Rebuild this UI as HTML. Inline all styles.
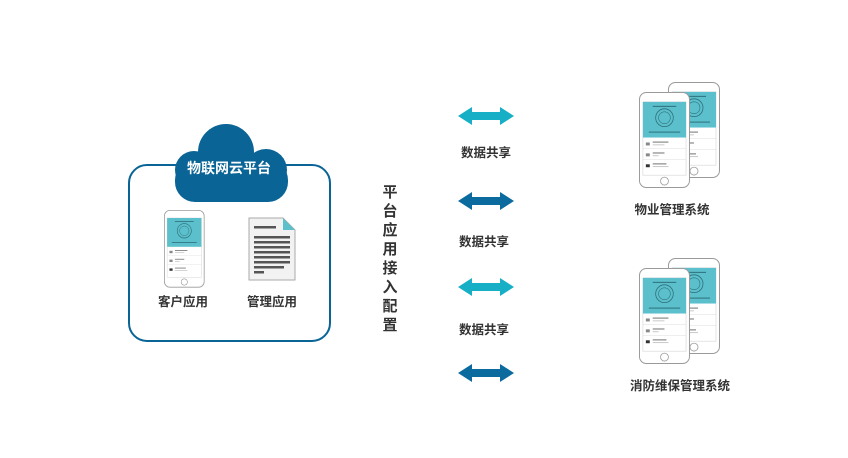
<!DOCTYPE html>
<html><head><meta charset="utf-8"><style>
body{margin:0;background:#fff;width:848px;height:453px;overflow:hidden;font-family:"Liberation Sans","Noto Sans CJK SC",sans-serif}
</style></head><body>
<svg width="848" height="453" viewBox="0 0 848 453" xmlns="http://www.w3.org/2000/svg" font-family="Liberation Sans, Noto Sans CJK SC, sans-serif">
<defs>
<g id="ph">
 <rect x="0.5" y="0.5" width="51" height="96" rx="7" fill="#fff" stroke="#9a9a9a" stroke-width="1"/>
 <rect x="4" y="10" width="44" height="74" fill="#fff" stroke="#ccc" stroke-width="0.5"/>
 <rect x="4" y="10" width="44" height="36" fill="#5cc0cc"/>
 <circle cx="26" cy="26" r="9" fill="none" stroke="#2b6f7a" stroke-width="0.8"/>
 <circle cx="26" cy="26" r="6" fill="none" stroke="#2b6f7a" stroke-width="0.6"/>
 <rect x="10" y="40" width="32" height="1" fill="#2b6f7a"/>
 <rect x="14" y="14" width="24" height="1" fill="#2b6f7a"/>
 <g fill="#888"><rect x="7" y="51" width="4" height="3"/><rect x="14" y="50" width="16" height="1.2"/><rect x="14" y="53" width="12" height="0.8" fill="#bbb"/>
 <rect x="7" y="62" width="4" height="3"/><rect x="14" y="61" width="12" height="1.2"/><rect x="14" y="64" width="6" height="0.8" fill="#bbb"/>
 <rect x="7" y="73" width="4" height="3" fill="#333"/><rect x="14" y="72" width="14" height="1.2"/><rect x="14" y="75" width="16" height="0.8" fill="#bbb"/></g>
 <line x1="4" y1="57" x2="48" y2="57" stroke="#ddd" stroke-width="0.5"/><line x1="4" y1="68" x2="48" y2="68" stroke="#ddd" stroke-width="0.5"/>
 <circle cx="26" cy="90" r="4" fill="none" stroke="#9a9a9a" stroke-width="0.8"/>
</g>
</defs>
<rect x="129" y="165" width="201" height="176" rx="18" fill="#fff" stroke="#0a6496" stroke-width="2"/>
<g fill="#0a6496">
 <circle cx="226" cy="152" r="28"/>
 <circle cx="194" cy="170" r="19"/>
 <circle cx="266" cy="170" r="21"/>
 <rect x="175" y="160" width="113" height="42" rx="20"/>
</g>
<text x="229" y="173" text-anchor="middle" fill="#fff" font-size="14" font-weight="bold">物联网云平台</text>
<g transform="translate(164,210) scale(0.78,0.8)"><use href="#ph"/></g>
<text x="183" y="306" text-anchor="middle" fill="#333" font-size="12.5" font-weight="bold">客户应用</text>
<path d="M249 218 H283 L295 230 V280 H249 Z" fill="#f2f2f2" stroke="#aaa" stroke-width="1"/>
<path d="M283 218 L295 230 H283 Z" fill="#5cc0cc"/>
<g fill="#555"><rect x="254" y="226" width="22" height="2.5"/>
<rect x="254" y="236" width="36" height="2.5"/><rect x="254" y="241" width="36" height="2.5"/><rect x="254" y="246" width="36" height="2.5"/><rect x="254" y="251" width="36" height="2.5"/><rect x="254" y="256" width="36" height="2.5"/><rect x="254" y="261" width="36" height="2.5"/><rect x="254" y="266" width="30" height="2.5"/><rect x="254" y="271" width="10" height="2.5"/></g>
<text x="272" y="306" text-anchor="middle" fill="#333" font-size="12.5" font-weight="bold">管理应用</text>
<g font-size="15" font-weight="bold" fill="#333" text-anchor="middle">
<text x="390" y="197">平</text><text x="390" y="216">台</text><text x="390" y="235">应</text><text x="390" y="254">用</text><text x="390" y="273">接</text><text x="390" y="292">入</text><text x="390" y="311">配</text><text x="390" y="330">置</text>
</g>
<g>
<path d="M458 116 L472 107 V112 H500 V107 L514 116 L500 125 V120 H472 V125 Z" fill="#16afc6"/>
<path d="M458 201 L472 192 V197 H500 V192 L514 201 L500 210 V205 H472 V210 Z" fill="#0b6a9e"/>
<path d="M458 287 L472 278 V283 H500 V278 L514 287 L500 296 V291 H472 V296 Z" fill="#16afc6"/>
<path d="M458 373 L472 364 V369 H500 V364 L514 373 L500 382 V377 H472 V382 Z" fill="#0b6a9e"/>
</g>
<g font-size="12.5" font-weight="bold" fill="#333" text-anchor="middle">
<text x="486" y="157">数据共享</text><text x="484" y="246">数据共享</text><text x="484" y="334">数据共享</text>
</g>
<g transform="translate(668,82) scale(1,0.99)"><use href="#ph"/></g>
<g transform="translate(639,92) scale(0.98,0.99)"><use href="#ph"/></g>
<text x="672" y="214" text-anchor="middle" fill="#333" font-size="12.5" font-weight="bold">物业管理系统</text>
<g transform="translate(668,258) scale(1,0.99)"><use href="#ph"/></g>
<g transform="translate(639,268) scale(0.98,0.99)"><use href="#ph"/></g>
<text x="680" y="390" text-anchor="middle" fill="#333" font-size="12.5" font-weight="bold">消防维保管理系统</text>
</svg>
</body></html>
